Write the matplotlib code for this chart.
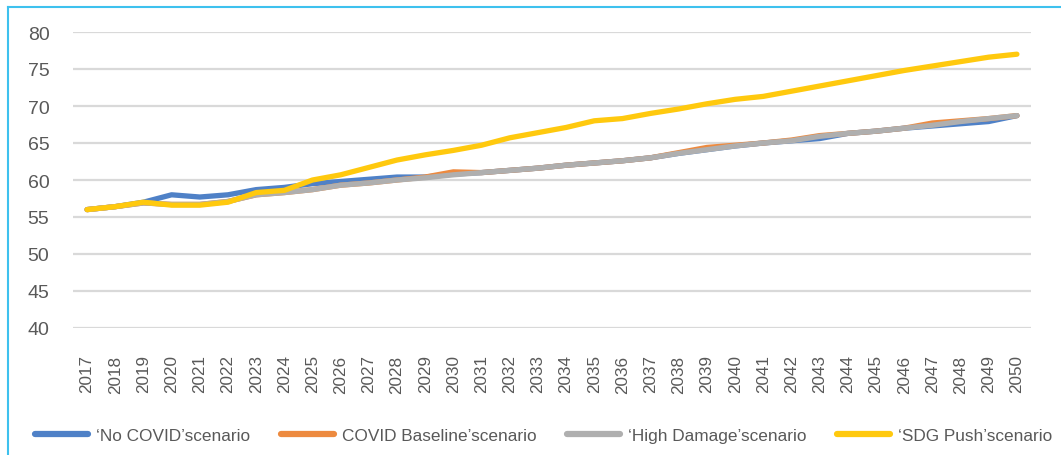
import matplotlib
matplotlib.use("Agg")
import matplotlib.pyplot as plt
from matplotlib.lines import Line2D

plt.rcParams['font.family'] = ['Liberation Sans', 'DejaVu Sans']

years = list(range(2017, 2051))
no_covid = [56.0, 56.4, 57.0, 58.0, 57.7, 58.0, 58.7, 59.0, 59.5, 59.8, 60.1, 60.4, 60.4, 60.8, 61.0,
            61.3, 61.6, 62.0, 62.3, 62.6, 63.0, 63.6, 64.1, 64.6, 65.0, 65.3, 65.6, 66.3, 66.6, 67.0,
            67.3, 67.6, 67.9, 68.7]
covid_baseline = [56.0, 56.4, 56.9, 56.7, 56.7, 57.1, 58.0, 58.3, 58.7, 59.3, 59.6, 60.0, 60.4, 61.1, 61.0,
                  61.3, 61.6, 62.0, 62.3, 62.6, 63.0, 63.7, 64.4, 64.7, 65.0, 65.4, 66.0, 66.3, 66.6, 67.0,
                  67.7, 68.0, 68.3, 68.7]
high_damage = [56.0, 56.4, 56.9, 56.7, 56.7, 57.1, 58.0, 58.3, 58.7, 59.3, 59.6, 60.0, 60.3, 60.7, 61.0,
               61.3, 61.6, 62.0, 62.3, 62.6, 63.0, 63.6, 64.1, 64.6, 65.0, 65.3, 65.9, 66.3, 66.6, 67.0,
               67.4, 67.9, 68.3, 68.7]
sdg_push = [56.0, 56.4, 57.0, 56.6, 56.6, 57.0, 58.3, 58.6, 60.0, 60.7, 61.7, 62.7, 63.4, 64.0, 64.7,
            65.7, 66.4, 67.1, 68.0, 68.3, 69.0, 69.6, 70.3, 70.9, 71.3, 72.0, 72.7, 73.4, 74.1, 74.8,
            75.4, 76.0, 76.6, 77.0]

labels = ["\u2018No COVID\u2019scenario", "COVID Baseline\u2019scenario",
          "\u2018High Damage\u2019scenario", "\u2018SDG Push\u2019scenario"]
colors = ["#4F81C7", "#ED8A3F", "#AFAFAF", "#FFC90E"]
series = [no_covid, covid_baseline, high_damage, sdg_push]

fig = plt.figure(figsize=(10.61, 4.56), dpi=100)
ax = fig.add_axes([73/1061, 1-329/456, (1031-73)/1061, (329-33)/456])

for s, c, l in zip(series, colors, labels):
    ax.plot(years, s, color=c, lw=3.8, label=l, solid_capstyle='round', solid_joinstyle='round')

ax.set_xlim(2016.5, 2050.5)
ax.set_ylim(40, 80)
ax.set_yticks(range(40, 81, 5))
ax.set_xticks(years)
ax.set_xticklabels([str(y) for y in years], rotation=90, fontsize=12.3, color="#595959")
ax.tick_params(axis='y', labelsize=14, colors="#595959", length=0, pad=17)
ax.tick_params(axis='x', length=0, pad=19)
ax.grid(axis='y', color="#D9D9D9", lw=1.6)
ax.set_axisbelow(True)
for sp in ax.spines.values():
    sp.set_visible(False)

handles = [Line2D([0], [0], color=c, lw=4.5, solid_capstyle='round') for c in colors]
fig.legend(handles, labels, loc='center left', bbox_to_anchor=(35/1061, 1-436/456), ncol=4,
           frameon=False, fontsize=12.4, labelcolor="#595959", handlelength=3.1,
           handletextpad=0.45, columnspacing=1.76, borderpad=0, borderaxespad=0)

# cyan frame (left and top edges)
fig.add_artist(Line2D([8/1061, 8/1061], [0, 1-8/456], color="#3EC1EE", lw=1.5, transform=fig.transFigure))
fig.add_artist(Line2D([8/1061, 1], [1-8/456, 1-8/456], color="#3EC1EE", lw=1.5, transform=fig.transFigure))

fig.savefig("out.png", dpi=100)
